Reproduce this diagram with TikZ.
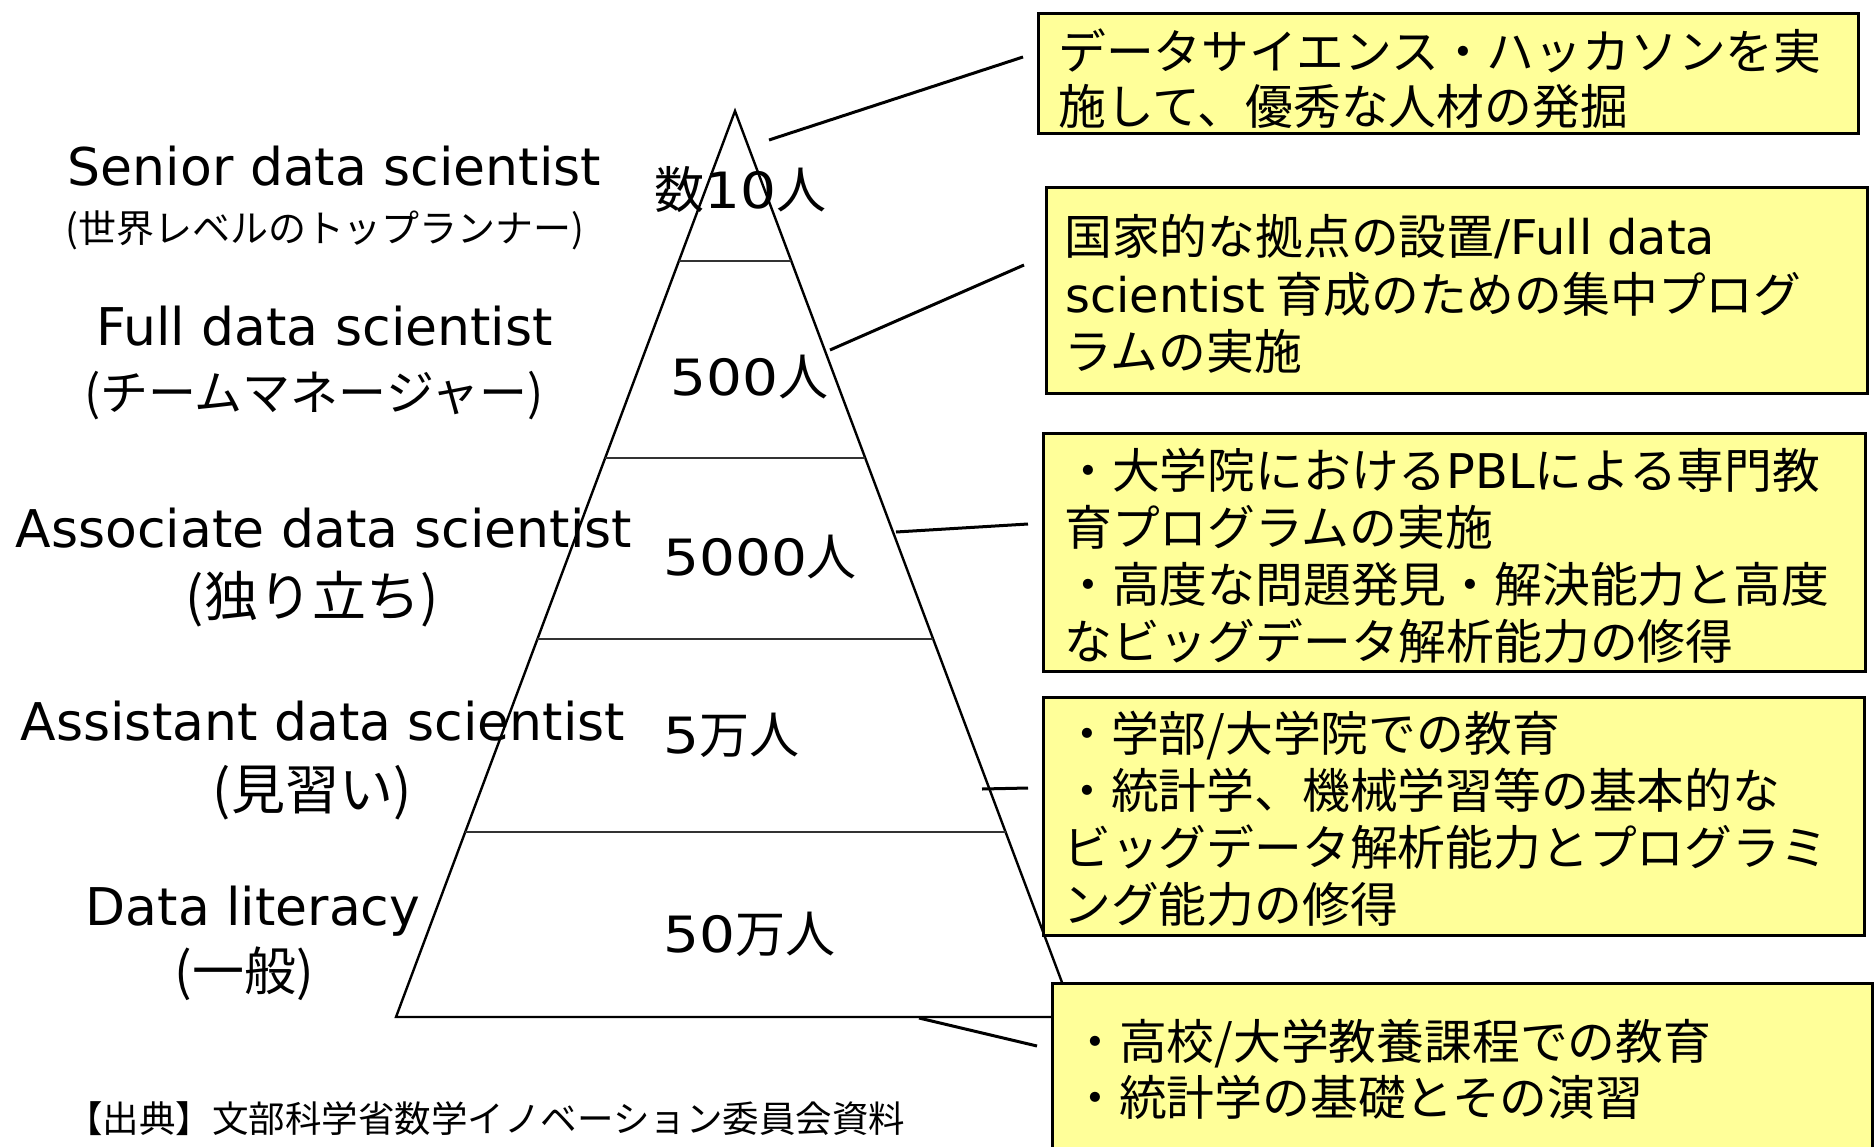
\documentclass[tikz,border=0pt]{standalone}
\usepackage{fontspec}
\usepackage{graphicx}
\setmainfont{DejaVu Sans}
\newfontfamily\jpfont{Noto Sans CJK JP}
\newfontfamily\dvfont{DejaVu Sans}
\usetikzlibrary{calc}
\definecolor{boxyellow}{HTML}{FFFF99}
\newcommand\numtext[1]{\scalebox{1.13}[1]{\dvfont #1}}
\newcommand\latn[1]{{\dvfont #1}}
\begin{document}
\begin{tikzpicture}[x=1pt,y=-1pt,
  edge/.style={line width=2.4pt, black, line join=miter},
  divider/.style={line width=2pt, black!80},
  connector/.style={line width=3pt, black},
  infobox/.style={draw=black, line width=3pt, fill=boxyellow, rectangle, inner sep=0pt},
  boxline/.style={anchor=base west, inner sep=0pt, font=\jpfont\fontsize{47.8}{50}\selectfont},
  enlabel/.style={anchor=base, inner sep=0pt, font=\dvfont\fontsize{52}{56}\selectfont},
  jplabel/.style={anchor=center, inner sep=0pt},
  countlabel/.style={anchor=base west, inner sep=0pt, font=\jpfont\fontsize{50}{54}\selectfont},
]
\useasboundingbox (0,0) rectangle (1874,1146);
\begin{scope}
\clip (0,0) rectangle (1874,1146);
\fill[white] (0,0) rectangle (1874,1146);

% pyramid
\coordinate (apex) at (735,111);
\coordinate (bl) at (396,1017);
\coordinate (br) at (1075,1017);
\draw[edge] (apex) -- (br) -- (bl) -- cycle;

% dividers
\foreach \t/\n in {0.1656/1,0.383/2,0.5828/3,0.7958/4}{
  \coordinate (d\n l) at ($(apex)!\t!(bl)$);
  \coordinate (d\n r) at ($(apex)!\t!(br)$);
  \draw[divider] (d\n l) -- (d\n r);
}

% connectors
\coordinate (c1a) at (769,140);  \coordinate (c1b) at (1023,57);
\coordinate (c2a) at (830,350);  \coordinate (c2b) at (1024,265);
\coordinate (c3a) at (896,532);  \coordinate (c3b) at (1028,524);
\coordinate (c4a) at (982,789);  \coordinate (c4b) at (1028,788);
\coordinate (c5a) at (919,1018); \coordinate (c5b) at (1037,1046);
\draw[connector] (c1a) -- (c1b);
\draw[connector] (c2a) -- (c2b);
\draw[connector] (c3a) -- (c3b);
\draw[connector] (c4a) -- (c4b);
\draw[connector] (c5a) -- (c5b);

% boxes
\node[infobox, minimum width=820, minimum height=120] (b1) at (1448,73) {};
\node[infobox, minimum width=821, minimum height=206] (b2) at (1456.5,290) {};
\node[infobox, minimum width=822, minimum height=238] (b3) at (1454,552) {};
\node[infobox, minimum width=821, minimum height=238] (b4) at (1453.5,816) {};
\node[infobox, minimum width=820, minimum height=170] (b5) at (1462,1068) {};

% box texts
\node[boxline] (b1l1) at (1058,69) {データサイエンス・ハッカソンを実};
\node[boxline] (b1l2) at (1058,124) {施して、優秀な人材の発掘};

\node[boxline] (b2l1) at (1064,254) {国家的な拠点の設置\latn{/Full data}};
\node[boxline] (b2l2) at (1065,312) {\latn{scientist} 育成のための集中プログ};
\node[boxline] (b2l3) at (1064,369) {ラムの実施};

\node[boxline] (b3l1) at (1064,488) {・大学院における\latn{PBL}による専門教};
\node[boxline] (b3l2) at (1064,545) {育プログラムの実施};
\node[boxline] (b3l3) at (1064,602) {・高度な問題発見・解決能力と高度};
\node[boxline] (b3l4) at (1064,659) {なビッグデータ解析能力の修得};

\node[boxline] (b4l1) at (1063,751) {・学部/大学院での教育};
\node[boxline] (b4l2) at (1063,808) {・統計学、機械学習等の基本的な};
\node[boxline] (b4l3) at (1063,865) {ビッグデータ解析能力とプログラミ};
\node[boxline] (b4l4) at (1063,922) {ング能力の修得};

\node[boxline] (b5l1) at (1071,1059) {・高校/大学教養課程での教育};
\node[boxline] (b5l2) at (1071,1115) {・統計学の基礎とその演習};

% counts inside pyramid
\node[countlabel] (n1) at (654,208) {数\numtext{10}人};
\node[countlabel] (n2) at (670,395) {\numtext{500}人};
\node[countlabel] (n3) at (663,575) {\numtext{5000}人};
\node[countlabel] (n4) at (663,753) {\numtext{5}万人};
\node[countlabel] (n5) at (663,952) {\numtext{50}万人};

% left labels
\node[enlabel] (e1) at (334.5,185) {Senior data scientist};
\node[jplabel, font=\jpfont\fontsize{38}{40}\selectfont] (j1) at (325,230) {(世界レベルのトップランナー)};
\node[enlabel] (e2) at (324.5,345) {Full data scientist};
\node[jplabel, font=\jpfont\fontsize{48}{50}\selectfont] (j2) at (314,396) {(チームマネージャー)};
\node[enlabel] (e3) at (324,547) {Associate data scientist};
\node[jplabel, font=\jpfont\fontsize{54}{56}\selectfont] (j3) at (312,599) {(独り立ち)};
\node[enlabel] (e4) at (323,740) {Assistant data scientist};
\node[jplabel, font=\jpfont\fontsize{54}{56}\selectfont] (j4) at (312,793) {(見習い)};
\node[enlabel] (e5) at (253,925) {Data literacy};
\node[jplabel, font=\jpfont\fontsize{52}{54}\selectfont] (j5) at (244,974) {(一般)};

% source
\node[anchor=west, inner sep=0pt, font=\jpfont\fontsize{36.5}{38}\selectfont] (src) at (66,1119) {【出典】文部科学省数学イノベーション委員会資料};
\end{scope}
\end{tikzpicture}
\end{document}
